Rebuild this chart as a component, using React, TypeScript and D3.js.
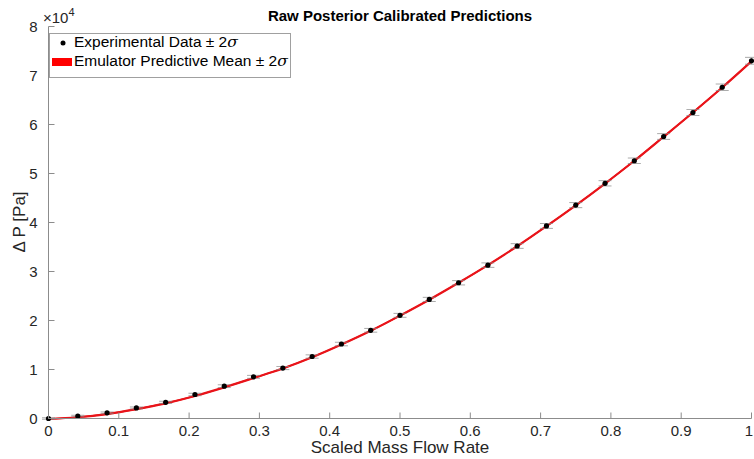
import React from "react";
import * as d3 from "d3";

// Scaled mass flow rate at which pressure drop was measured
const flowRate = [
  0, 1 / 24, 2 / 24, 3 / 24, 4 / 24, 5 / 24, 6 / 24, 7 / 24, 8 / 24, 9 / 24, 10 / 24, 11 / 24, 12 / 24,
  13 / 24, 14 / 24, 15 / 24, 16 / 24, 17 / 24, 18 / 24, 19 / 24, 20 / 24, 21 / 24, 22 / 24, 23 / 24, 1,
];

// Experimental pressure drop [Pa]
const measured = [
  0, 500, 1150, 2150, 3300, 4900, 6600, 8500, 10300, 12650, 15200, 18000, 21050,
  24300, 27700, 31300, 35200, 39300, 43550, 48000, 52600, 57550, 62450, 67600, 73000,
];

// Two-sigma measurement uncertainty [Pa]
const measuredErr = [
  150, 160, 180, 200, 220, 250, 280, 300, 320, 340, 360, 380, 400,
  420, 440, 460, 480, 500, 520, 540, 560, 590, 620, 660, 700,
];

// Emulator predictive mean and two-sigma half-width [Pa]
const emulatorMean = [
  -100, 250, 900, 1900, 3100, 4600, 6350, 8250, 10200, 12500, 15100, 17900, 21000,
  24250, 27700, 31300, 35150, 39250, 43500, 47950, 52600, 57500, 62450, 67550, 72900,
];
const emulatorBand = [
  150, 150, 150, 150, 150, 150, 150, 150, 150, 150, 160, 160, 160,
  160, 170, 170, 170, 180, 180, 180, 190, 190, 200, 200, 210,
];

const xTicks = [0, 0.1, 0.2, 0.3, 0.4, 0.5, 0.6, 0.7, 0.8, 0.9, 1];
const yTicks = [0, 1, 2, 3, 4, 5, 6, 7, 8];

const W = 754;
const H = 459;
const FONT = "'Liberation Sans', Arial, Helvetica, sans-serif";
const AXIS = "#8c8c8c";
const TEXT = "#262626";

export default function App() {
  const x = d3.scaleLinear().domain([0, 1]).range([48.5, 751.5]);
  const y = d3.scaleLinear().domain([0, 8e4]).range([418.5, 26.5]);

  const meanLine = d3
    .line<number>()
    .x((_, i) => x(flowRate[i]))
    .y((d) => y(d))
    .curve(d3.curveMonotoneX)(emulatorMean);

  const band = d3
    .area<number>()
    .x((_, i) => x(flowRate[i]))
    .y0((d, i) => y(d - emulatorBand[i]))
    .y1((d, i) => y(d + emulatorBand[i]))
    .curve(d3.curveMonotoneX)(emulatorMean);

  const cap = 6.5;

  return (
    <svg
      width={W}
      height={H}
      style={{ position: "absolute", left: 0, top: 0, background: "#fff" }}
      fontFamily={FONT}
    >
      <rect width={W} height={H} fill="#fff" />

      {/* emulator band and mean */}
      <path d={band ?? ""} fill="#ff0000" stroke="none" />
      <path d={meanLine ?? ""} fill="none" stroke="#e8141a" strokeWidth={2.2} />

      {/* experimental error bars */}
      {measured.map((v, i) => {
        const cx = x(flowRate[i]);
        const lo = y(v - measuredErr[i]);
        const hi = y(v + measuredErr[i]);
        return (
          <g key={`e${i}`} stroke="#8a8a8a" strokeWidth={0.9} opacity={0.8}>
            <line x1={cx} x2={cx} y1={lo} y2={hi} />
            <line x1={cx - cap} x2={cx + cap} y1={lo} y2={lo} />
            <line x1={cx - cap} x2={cx + cap} y1={hi} y2={hi} />
          </g>
        );
      })}

      {/* experimental points */}
      {measured.map((v, i) => (
        <circle key={`p${i}`} cx={x(flowRate[i])} cy={y(v)} r={2.6} fill="#000" />
      ))}

      {/* axes */}
      <line x1={x(0)} x2={x(1)} y1={y(0)} y2={y(0)} stroke={AXIS} strokeWidth={1} />
      <line x1={x(0)} x2={x(0)} y1={y(0)} y2={y(8e4)} stroke={AXIS} strokeWidth={1} />

      {xTicks.map((t) => (
        <g key={`xt${t}`}>
          <line x1={x(t)} x2={x(t)} y1={y(0)} y2={y(0) - 6} stroke={AXIS} />
          <text x={Math.min(x(t), W - 5)} y={436} textAnchor="middle" fontSize={15} fill={TEXT}>
            {String(t)}
          </text>
        </g>
      ))}
      {yTicks.map((t) => (
        <g key={`yt${t}`}>
          <line x1={x(0)} x2={x(0) + 6} y1={y(t * 1e4)} y2={y(t * 1e4)} stroke={AXIS} />
          <text x={x(0) - 11} y={y(t * 1e4) + 5.5} textAnchor="end" fontSize={15} fill={TEXT}>
            {String(t)}
          </text>
        </g>
      ))}

      {/* exponent */}
      <text x={43} y={22.5} textAnchor="start" fontSize={15} fill={TEXT}>
        <tspan>×10</tspan>
        <tspan dy={-7} fontSize={11}>4</tspan>
      </text>

      {/* title */}
      <text x={400} y={20.5} textAnchor="middle" fontSize={15} fontWeight="bold" fill="#000">
        Raw Posterior Calibrated Predictions
      </text>

      {/* axis labels */}
      <text x={400} y={453} textAnchor="middle" fontSize={17} fill={TEXT}>
        Scaled Mass Flow Rate
      </text>
      <text
        transform={`translate(25, 222) rotate(-90)`}
        textAnchor="middle"
        fontSize={17}
        fill={TEXT}
      >
        Δ P [Pa]
      </text>

      {/* legend */}
      <g>
        <rect x={49.5} y={33.5} width={241} height={44} fill="#fff" stroke="#a0a0a0" strokeWidth={1} />
        <circle cx={63} cy={43} r={2.5} fill="#000" />
        <text x={74} y={47} fontSize={15.5} fill="#000">
          Experimental Data ± 2<tspan fontFamily="'DejaVu Serif', serif" fontStyle="italic">σ</tspan>
        </text>
        <rect x={52} y={58} width={20} height={8} fill="#ff0000" />
        <text x={74} y={65.5} fontSize={15.5} fill="#000">
          Emulator Predictive Mean ± 2<tspan fontFamily="'DejaVu Serif', serif" fontStyle="italic">σ</tspan>
        </text>
      </g>
    </svg>
  );
}
